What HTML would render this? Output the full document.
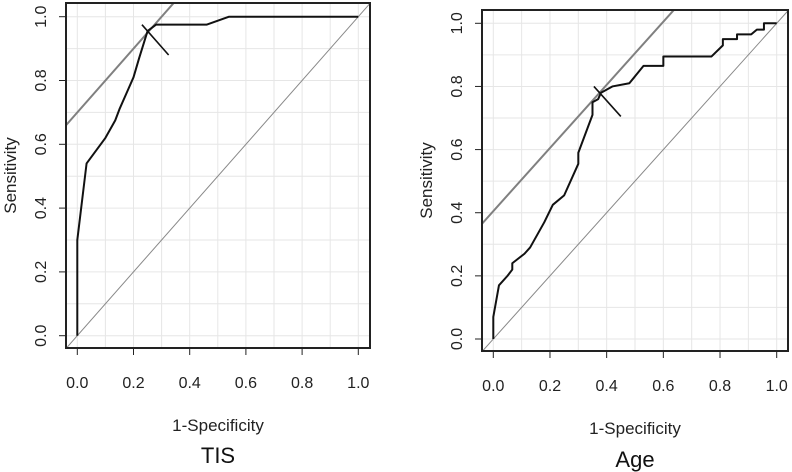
<!DOCTYPE html>
<html><head><meta charset="utf-8"><style>
html,body{margin:0;padding:0;background:#fff;}
svg{display:block;font-family:"Liberation Sans",Arial,sans-serif;}
</style></head>
<body>
<svg id="c" width="792" height="472" viewBox="0 0 792 472"></svg>
<script>
const tisX=[0,0,0.033,0.1,0.135,0.15,0.2,0.22,0.25,0.28,0.46,0.54,1];
const tisY=[0,0.3,0.54,0.62,0.675,0.71,0.81,0.87,0.955,0.975,0.975,1,1];
const ageX=[0,0,0.02,0.05,0.067,0.067,0.11,0.13,0.18,0.21,0.25,0.3,0.3,0.35,0.35,0.37,0.38,0.42,0.48,0.53,0.6,0.6,0.77,0.81,0.81,0.86,0.86,0.91,0.93,0.955,0.955,1];
const ageY=[0,0.07,0.17,0.2,0.22,0.24,0.27,0.29,0.37,0.425,0.455,0.555,0.59,0.71,0.75,0.76,0.78,0.80,0.81,0.865,0.865,0.895,0.895,0.93,0.95,0.95,0.965,0.965,0.98,0.98,1,1];
const tickLabels=["0.0","0.2","0.4","0.6","0.8","1.0"];
const tickVals=[0,0.2,0.4,0.6,0.8,1];
const tisBest=[0.25,0.955];
const ageBest=[0.375,0.78];
const tisIntercept=0.70, ageIntercept=0.405;

const svg=document.getElementById('c');
const NS='http://www.w3.org/2000/svg';
function el(t,a,p){const e=document.createElementNS(NS,t);for(const k in a)e.setAttribute(k,a[k]);(p||svg).appendChild(e);return e;}

function panel(cfg){
  const g=el('g',{});
  
  
  const sx=v=>cfg.x0+(cfg.x1-cfg.x0)*v, sy=v=>cfg.y0+(cfg.y1-cfg.y0)*v;
  const b=cfg.box;
  const clip=el('clipPath',{id:'cl'+cfg.name},g);
  el('rect',{x:b[0],y:b[1],width:b[2]-b[0],height:b[3]-b[1]},clip);
  const inner=el('g',{'clip-path':'url(#cl'+cfg.name+')'},g);
  for(let i=0;i<=10;i++){
    const v=i/10;
    const gx=el('line',{x1:sx(v),x2:sx(v),y1:b[1],y2:b[3],stroke:'#e6e6e6','stroke-width':1},inner);
    
    const gy=el('line',{x1:b[0],x2:b[2],y1:sy(v),y2:sy(v),stroke:'#e6e6e6','stroke-width':1},inner);
    
  }
  const d=el('line',{x1:sx(-0.1),y1:sy(-0.1),x2:sx(1.1),y2:sy(1.1),stroke:'#888','stroke-width':1},inner);
  
  const t=el('line',{x1:sx(-0.1),y1:sy(-0.1+cfg.ic),x2:sx(1),y2:sy(1+cfg.ic),stroke:'#808080','stroke-width':2},inner);
  
  const pts=cfg.xs.map((x,i)=>sx(x)+','+sy(cfg.ys[i])).join(' ');
  const c=el('polyline',{points:pts,fill:'none',stroke:'#111','stroke-width':2,'stroke-linejoin':'round'},inner);
  
  const bp=cfg.best;
  const m=el('line',{x1:sx(bp[0]-0.02),y1:sy(bp[1]+0.02),x2:sx(bp[0]+0.075),y2:sy(bp[1]-0.075),stroke:'#111','stroke-width':1.6},inner);
  
  const r=el('rect',{x:b[0],y:b[1],width:b[2]-b[0],height:b[3]-b[1],fill:'none',stroke:'#222','stroke-width':2},g);
  
  tickVals.forEach((v,i)=>{
    el('line',{x1:sx(v),x2:sx(v),y1:b[3],y2:b[3]+7,stroke:'#222'},g);
    const tx=el('text',{x:sx(v),y:b[3]+40,'text-anchor':'middle','font-size':16,fill:'#222'},g);
    tx.textContent=tickLabels[i];
    
    el('line',{x1:b[0],x2:b[0]-7,y1:sy(v),y2:sy(v),stroke:'#222'},g);
    const ty=el('text',{x:0,y:0,'text-anchor':'middle','font-size':16,fill:'#222',transform:`translate(${b[0]-20},${sy(v)}) rotate(-90)`},g);
    ty.textContent=tickLabels[i];
    
  });
  const xl=el('text',{x:(b[0]+b[2])/2,y:cfg.xlY,'text-anchor':'middle','font-size':17,fill:'#222'},g);
  xl.textContent='1-Specificity';
  const yl=el('text',{x:0,y:0,'text-anchor':'middle','font-size':17,fill:'#222',transform:`translate(${cfg.ylX},${(b[1]+b[3])/2}) rotate(-90)`},g);
  yl.textContent='Sensitivity';
  const ti=el('text',{x:(b[0]+b[2])/2,y:cfg.tY,'text-anchor':'middle','font-size':22,fill:'#111'},g);
  ti.textContent=cfg.title;
}
panel({name:'tis',title:'TIS',x0:77.3,x1:358.3,y0:335.7,y1:16.7,box:[66,3,370,348],xs:tisX,ys:tisY,best:tisBest,ic:tisIntercept,xlY:431,ylX:16,tY:463});
panel({name:'age',title:'Age',x0:493.3,x1:776.7,y0:339,y1:23.3,box:[482,10,788,351],xs:ageX,ys:ageY,best:ageBest,ic:ageIntercept,xlY:434,ylX:432,tY:467});
</script>
</body></html>
